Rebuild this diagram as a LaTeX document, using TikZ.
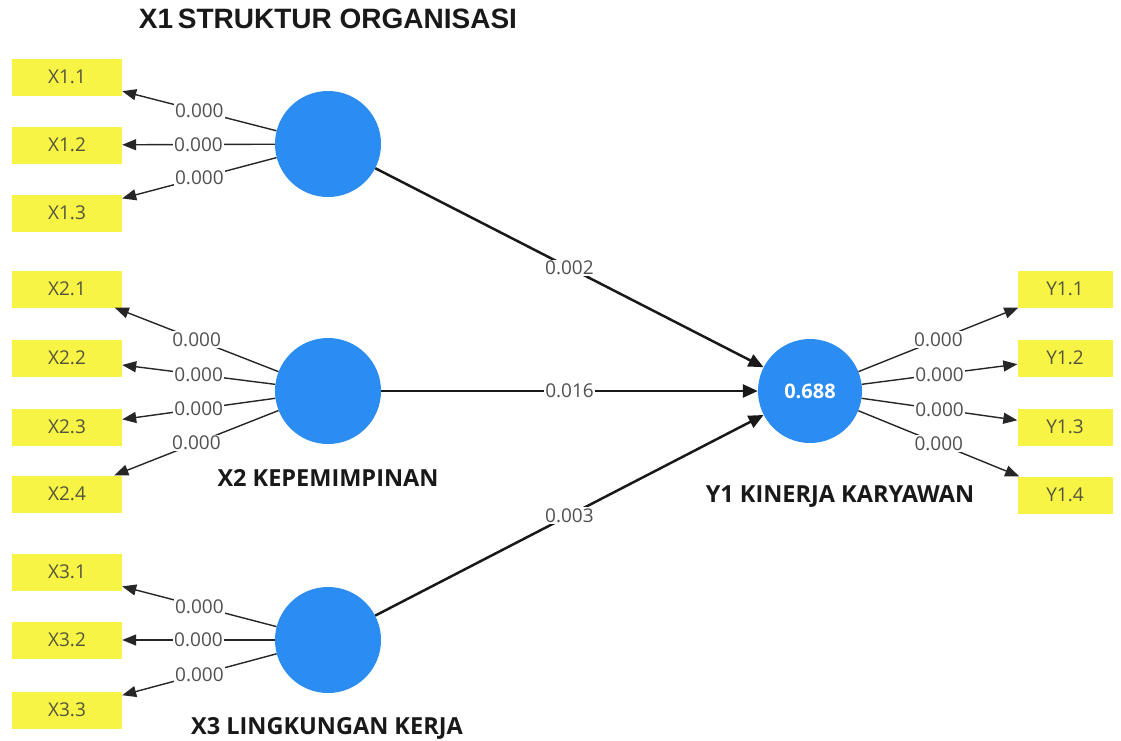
\documentclass[tikz,border=0pt]{standalone}
\usepackage{fontspec}
\setmainfont{Open Sans}
\newfontfamily\titlefont{Liberation Sans}
\usetikzlibrary{arrows.meta}
\definecolor{boxyellow}{RGB}{247,244,70}
\definecolor{boxtext}{RGB}{85,85,60}
\definecolor{latblue}{RGB}{43,140,242}
\definecolor{valgray}{RGB}{80,80,80}
\tikzset{
  ind/.style={fill=boxyellow, minimum width=110pt, minimum height=37pt, inner sep=0pt, text=boxtext, font=\fontsize{19}{19}\selectfont},
  indr/.style={ind, minimum width=95pt},
  lat/.style={circle, fill=latblue, minimum size=106pt, inner sep=0pt},
  latlabel/.style={font=\bfseries\fontsize{23.5}{23.5}\selectfont, text=black!90},
  ld/.style={-{Triangle[length=14pt,width=11pt]}, line width=1.4pt, draw=black!85},
  pth/.style={-{Triangle[length=15pt,width=13pt]}, line width=2.5pt, draw=black!90},
  val/.style={fill=white, inner sep=1.2pt, text=valgray, font=\fontsize{19}{19}\selectfont}
}
\begin{document}
\begin{tikzpicture}[x=1pt,y=-1pt]
\useasboundingbox[fill=white] (0,0) rectangle (1121,740);
% latent variables
\node[lat] (X1) at (328,144) {};
\node[lat] (X2) at (328,391) {};
\node[lat] (X3) at (328,640) {};
\node[lat, minimum size=104pt, text=white, font=\bfseries\fontsize{20}{20}\selectfont] (Y1) at (810,391) {0.688};
% latent labels
\node[latlabel, font=\titlefont\bfseries\fontsize{28}{28}\selectfont] (tX1) at (328,19) {X1\,STRUKTUR ORGANISASI};
\node[latlabel] (tX2) at (328,478) {X2 KEPEMIMPINAN};
\node[latlabel] (tX3) at (327,728) {X3 LINGKUNGAN KERJA};
\node[latlabel] (tY1) at (840,497) {Y1 KINERJA KARYAWAN};
% indicators
\node[ind] (X11) at (67,77) {X1.1};
\node[ind] (X12) at (67,145) {X1.2};
\node[ind] (X13) at (67,213) {X1.3};
\node[ind] (X21) at (67,289) {X2.1};
\node[ind] (X22) at (67,358) {X2.2};
\node[ind] (X23) at (67,427) {X2.3};
\node[ind] (X24) at (67,494) {X2.4};
\node[ind] (X31) at (67,572) {X3.1};
\node[ind] (X32) at (67,640) {X3.2};
\node[ind] (X33) at (67,710) {X3.3};
\node[indr] (Y11) at (1065,289) {Y1.1};
\node[indr] (Y12) at (1065,358) {Y1.2};
\node[indr] (Y13) at (1065,427) {Y1.3};
\node[indr] (Y14) at (1065,495) {Y1.4};
% outer loadings
\foreach \i in {1,2,3}{
  \draw[ld] (X1) -- node[val] {0.000} (X1\i);
  \draw[ld] (X3) -- node[val] {0.000} (X3\i);
}
\foreach \i in {1,2,3,4}{
  \draw[ld] (X2) -- node[val] {0.000} (X2\i);
  \draw[ld] (Y1) -- node[val] {0.000} (Y1\i);
}
% structural paths
\draw[pth] (X1) -- node[val] {0.002} (Y1);
\draw[pth] (X2) -- node[val] {0.016} (Y1);
\draw[pth] (X3) -- node[val] {0.003} (Y1);
\end{tikzpicture}
\end{document}
